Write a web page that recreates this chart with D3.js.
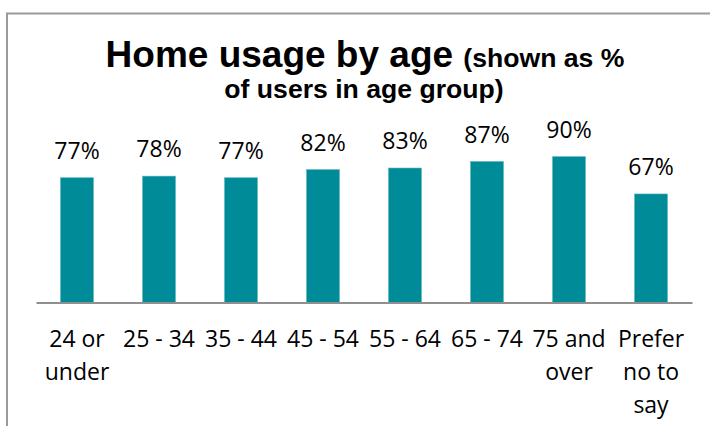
<!DOCTYPE html>
<html>
<head>
<meta charset="utf-8">
<script src="https://cdn.jsdelivr.net/npm/d3@7"></script>
<style>
body { margin: 0; background: #fff; }
.lbl { font-family: "Open Sans", sans-serif; font-size: 23px; fill: #000; }
</style>
</head>
<body>
<svg id="chart" width="710" height="426"></svg>
<script>
var ageGroups = ["24 or under", "25 - 34", "35 - 44", "45 - 54", "55 - 64", "65 - 74", "75 and over", "Prefer no to say"];
var homeUsage = [77, 78, 77, 82, 83, 87, 90, 67];

var svg = d3.select("#chart"),
width = +svg.attr("width"),
height = +svg.attr("height");

// chart frame (right and bottom edges run off the picture)
svg.append("rect")
.attr("x", 7).attr("y", 13.5)
.attr("width", 800).attr("height", 500)
.attr("fill", "none")
.attr("stroke", "#9a9a9a")
.attr("stroke-width", 2);

var title = svg.append("text")
.attr("x", 365)
.attr("y", 67)
.attr("text-anchor", "middle")
.style("font-family", "'Liberation Sans', Arial, sans-serif")
.style("font-weight", "bold");
title.append("tspan").style("font-size", "37px").text("Home usage by age ");
title.append("tspan").style("font-size", "26.6px").text("(shown as %");
svg.append("text")
.attr("x", 364)
.attr("y", 98)
.attr("text-anchor", "middle")
.style("font-family", "'Liberation Sans', Arial, sans-serif")
.style("font-weight", "bold")
.style("font-size", "26.6px")
.text("of users in age group)");

var x = d3.scaleBand()
.domain(ageGroups)
.range([36, 692])
.paddingInner(0.6)
.paddingOuter(0.3);

var y = d3.scaleLinear()
.domain([0, 100])
.range([302.5, 140.5]);

var data = ageGroups.map(function(d, i) { return {group: d, value: homeUsage[i]}; });

svg.append("g").selectAll("rect")
.data(data)
.enter().append("rect")
.attr("x", function(d) { return x(d.group); })
.attr("y", function(d) { return y(d.value); })
.attr("width", x.bandwidth())
.attr("height", function(d) { return y(0) - y(d.value); })
.attr("fill", "#008b99")
.attr("stroke", "#52b0ba")
.attr("stroke-width", 0.6);

svg.append("g").selectAll("text")
.data(data)
.enter().append("text")
.attr("class", "lbl")
.attr("x", function(d) { return x(d.group) + x.bandwidth() / 2; })
.attr("y", function(d) { return y(d.value) - 19; })
.attr("text-anchor", "middle")
.text(function(d) { return d.value + "%"; });

var xAxis = svg.append("g")
.attr("transform", "translate(0," + y(0) + ")")
.call(d3.axisBottom(x).tickSize(0).tickPadding(0));

xAxis.select(".domain")
.attr("stroke", "#8f8f8f")
.attr("stroke-width", 2);

xAxis.selectAll(".tick text")
.attr("class", "lbl")
.attr("y", 44)
.attr("dy", 0)
.style("font-family", "'Open Sans', sans-serif")
.style("font-size", "23px")
.attr("fill", "#000")
.call(wrap, 80);

function wrap(text, w) {
  text.each(function() {
    var t = d3.select(this),
    words = t.text().split(/\s+/),
    line = [],
    lineNo = 0,
    y0 = t.attr("y");
    var tspan = t.text(null).append("tspan").attr("x", 0).attr("y", y0);
    words.forEach(function(word) {
      line.push(word);
      tspan.text(line.join(" "));
      if (tspan.node().getComputedTextLength() > w && line.length > 1) {
        line.pop();
        tspan.text(line.join(" "));
        line = [word];
        lineNo++;
        tspan = t.append("tspan").attr("x", 0).attr("y", +y0 + lineNo * 33).text(word);
      }
    });
  });
}
</script>
</body>
</html>
